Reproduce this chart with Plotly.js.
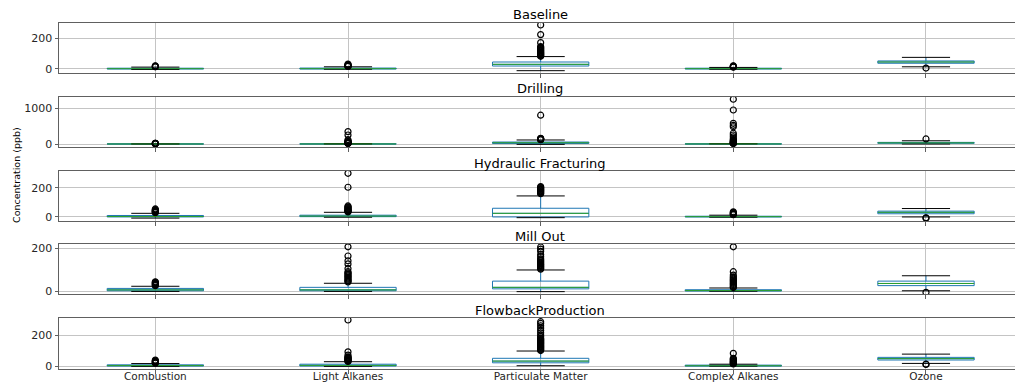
<!DOCTYPE html>
<html>
<head>
<meta charset="utf-8">
<script src="https://cdn.plot.ly/plotly-3.0.1.min.js"></script>
<style>
  html, body { margin: 0; padding: 0; background: #fff; }
  #chart { width: 1015px; height: 383px; }
</style>
</head>
<body>
<div id="chart"></div>
<script>
// Pollutant groups along the x axis
const categories = ['Combustion', 'Light Alkanes', 'Particulate Matter', 'Complex Alkanes', 'Ozone'];

// Well-development phases, one panel each
const phases = ['Baseline', 'Drilling', 'Hydraulic Fracturing', 'Mill Out', 'FlowbackProduction'];

// Box statistics per phase (ppb), in category order
const baselineQ1 = [0, 0, 19, 0, 37];
const baselineMedian = [2, 2, 30, 2, 45];
const baselineQ3 = [5, 6, 45, 5, 52];
const baselineLow = [-3, -2, -11, -2, 14];
const baselineHigh = [12, 14, 80, 10, 75];
const baselineOutliers = [
  [14, 16, 18, 20],
  [16, 18, 20, 22, 25, 28, 32],
  [82, 86, 90, 94, 98, 102, 106, 110, 115, 120, 125, 130, 135, 140, 145, 170, 222, 284],
  [12, 14, 16, 18, 20],
  [6]
];

const drillingQ1 = [0, 0, 15, 0, 20];
const drillingMedian = [1, 2, 35, 2, 32];
const drillingQ3 = [3, 5, 55, 6, 45];
const drillingLow = [0, 0, -10, 0, 0];
const drillingHigh = [6, 12, 112, 14, 90];
const drillingOutliers = [
  [8, 10, 12, 15, 18, 20],
  [15, 20, 25, 30, 40, 50, 60, 70, 90, 120, 250, 345],
  [118, 125, 130, 138, 145, 150, 158, 800],
  [16, 20, 25, 30, 40, 50, 60, 70, 85, 100, 120, 150, 200, 250, 300, 480, 520, 575, 945, 1243],
  [140]
];

const fracturingQ1 = [0, 2, 0, 0, 22];
const fracturingMedian = [3, 6, 25, 2, 32];
const fracturingQ3 = [10, 12, 60, 5, 40];
const fracturingLow = [-8, -2, -5, -2, 0];
const fracturingHigh = [25, 32, 145, 12, 58];
const fracturingOutliers = [
  [30, 33, 36, 39, 42, 45, 50, 55],
  [35, 38, 42, 46, 50, 55, 60, 65, 70, 76, 205, 301],
  [160, 165, 170, 175, 180, 185, 190, 195, 200, 205, 209],
  [15, 18, 22, 26, 30, 35],
  [-6, -8]
];

const millOutQ1 = [1, 1, 10, 0, 25];
const millOutMedian = [5, 5, 17, 2, 35];
const millOutQ3 = [12, 17, 46, 6, 46];
const millOutLow = [-2, -2, -3, -1, 1];
const millOutHigh = [22, 36, 98, 14, 71];
const millOutOutliers = [
  [25, 28, 31, 34, 37, 40, 43],
  [42, 46, 50, 55, 60, 65, 70, 75, 80, 85, 90, 105, 126, 141, 163, 206],
  [102, 106, 110, 114, 118, 122, 126, 130, 135, 140, 145, 150, 160, 170, 185, 195, 205],
  [16, 20, 25, 30, 35, 40, 45, 50, 55, 60, 66, 74, 90, 206],
  [-6]
];

const flowbackQ1 = [0, 0, 21, 0, 39];
const flowbackMedian = [3, 4, 32, 2, 48];
const flowbackQ3 = [8, 12, 50, 6, 56];
const flowbackLow = [-2, -2, 2, -1, 17];
const flowbackHigh = [16, 28, 97, 12, 77];
const flowbackOutliers = [
  [19, 22, 25, 28, 31, 34, 38],
  [30, 33, 36, 40, 44, 48, 52, 56, 60, 71, 92, 297],
  [100, 105, 110, 115, 120, 125, 130, 135, 140, 145, 150, 155, 160, 165, 170, 175, 180, 190, 200, 215, 230, 245, 260, 275, 286],
  [14, 18, 22, 26, 30, 35, 40, 45, 50, 82],
  [13, 10]
];

const panels = [
  {q1: baselineQ1, med: baselineMedian, q3: baselineQ3, lo: baselineLow, hi: baselineHigh, out: baselineOutliers},
  {q1: drillingQ1, med: drillingMedian, q3: drillingQ3, lo: drillingLow, hi: drillingHigh, out: drillingOutliers},
  {q1: fracturingQ1, med: fracturingMedian, q3: fracturingQ3, lo: fracturingLow, hi: fracturingHigh, out: fracturingOutliers},
  {q1: millOutQ1, med: millOutMedian, q3: millOutQ3, lo: millOutLow, hi: millOutHigh, out: millOutOutliers},
  {q1: flowbackQ1, med: flowbackMedian, q3: flowbackQ3, lo: flowbackLow, hi: flowbackHigh, out: flowbackOutliers}
];

// Layout geometry (pixels) for the stacked panels
const W = 1015, H = 383;
const rowPx = [[23, 73], [97, 147], [171, 221], [244, 294], [318, 369]];
const yRanges = [[-26, 297], [-83, 1306], [-28, 317], [-14, 219], [-19, 310]];
const yDticks = [200, 1000, 200, 200, 200];
const plotLeft = 59;

const BOX_W = 0.5, CAP_W = 0.25;
const boxColor = '#1f77b4', medianColor = '#2ca02c', capColor = '#000000';
const gridColor = '#c4c4c4', spineColor = '#606060', textColor = '#262626';
const FONT = 'DejaVu Sans, Liberation Sans, sans-serif';

const xIdx = categories.map((_, i) => i);
const traces = [];
const layout = {
  width: W, height: H,
  margin: {l: 0, r: 0, t: 0, b: 0},
  paper_bgcolor: '#ffffff', plot_bgcolor: '#ffffff',
  showlegend: false,
  boxmode: 'overlay',
  font: {family: FONT, size: 11, color: textColor},
  annotations: []
};

// Horizontal segment helper: builds x/y pairs centred on each category
function segments(values, halfWidth) {
  const xs = [], ys = [];
  values.forEach((v, i) => {
    xs.push(i - halfWidth, i + halfWidth, null);
    ys.push(v, v, null);
  });
  return {xs, ys};
}

panels.forEach((p, r) => {
  const n = r + 1;
  const xa = 'x' + (n === 1 ? '' : n), ya = 'y' + (n === 1 ? '' : n);
  const [top, bottom] = rowPx[r];

  layout['xaxis' + (n === 1 ? '' : n)] = {
    domain: [plotLeft / W, 1],
    range: [-0.5, 4.462],
    type: 'linear',
    anchor: ya,
    tickvals: xIdx,
    ticktext: categories,
    showticklabels: n === 5,
    ticklabelstandoff: -6,
    ticks: 'outside', ticklen: 3.5, tickcolor: spineColor,
    tickfont: {family: FONT, size: 10.5, color: textColor},
    showgrid: true, gridcolor: gridColor, gridwidth: 1,
    showline: true, linecolor: spineColor, linewidth: 1, mirror: true,
    zeroline: false, fixedrange: true
  };
  layout['yaxis' + (n === 1 ? '' : n)] = {
    domain: [1 - bottom / H, 1 - top / H],
    range: yRanges[r],
    anchor: xa,
    tick0: 0, dtick: yDticks[r],
    ticks: 'outside', ticklen: 3.5, tickcolor: spineColor,
    tickfont: {family: FONT, size: 11, color: textColor},
    showgrid: true, gridcolor: gridColor, gridwidth: 1,
    showline: true, linecolor: spineColor, linewidth: 1,
    zeroline: false, fixedrange: true
  };

  // Boxes and whiskers
  traces.push({
    type: 'box', xaxis: xa, yaxis: ya,
    x: xIdx, q1: p.q1, median: p.med, q3: p.q3,
    lowerfence: p.lo, upperfence: p.hi,
    width: BOX_W, whiskerwidth: 0,
    boxpoints: false,
    fillcolor: 'rgba(0,0,0,0)',
    line: {color: boxColor, width: 1},
    hoverinfo: 'skip'
  });

  // Whisker caps
  const lowCaps = segments(p.lo, CAP_W / 2);
  const highCaps = segments(p.hi, CAP_W / 2);
  traces.push({
    type: 'scatter', mode: 'lines', xaxis: xa, yaxis: ya,
    x: lowCaps.xs.concat(highCaps.xs), y: lowCaps.ys.concat(highCaps.ys),
    line: {color: capColor, width: 1}, hoverinfo: 'skip'
  });

  // Medians
  const meds = segments(p.med, BOX_W / 2);
  traces.push({
    type: 'scatter', mode: 'lines', xaxis: xa, yaxis: ya,
    x: meds.xs, y: meds.ys,
    line: {color: medianColor, width: 1}, hoverinfo: 'skip'
  });

  // Outliers as open circles
  const ox = [], oy = [];
  p.out.forEach((vals, i) => vals.forEach(v => { ox.push(i); oy.push(v); }));
  traces.push({
    type: 'scatter', mode: 'markers', xaxis: xa, yaxis: ya,
    x: ox, y: oy,
    marker: {symbol: 'circle-open', size: 6, color: '#000000', line: {width: 1.2, color: '#000000'}},
    hoverinfo: 'skip'
  });

  // Panel title
  layout.annotations.push({
    text: phases[r], xref: 'paper', yref: 'paper',
    x: 540 / W, y: 1 - (top - 8) / H,
    xanchor: 'center', yanchor: 'middle', showarrow: false,
    font: {family: FONT, size: 13, color: '#000000'}
  });
});

// Shared y-axis label
layout.annotations.push({
  text: 'Concentration (ppb)', xref: 'paper', yref: 'paper',
  x: 17 / W, y: 1 - 175 / H, textangle: -90,
  xanchor: 'center', yanchor: 'middle', showarrow: false,
  font: {family: FONT, size: 9.5, color: '#000000'}
});

Plotly.newPlot('chart', traces, layout, {displayModeBar: false, staticPlot: true});
</script>
</body>
</html>
